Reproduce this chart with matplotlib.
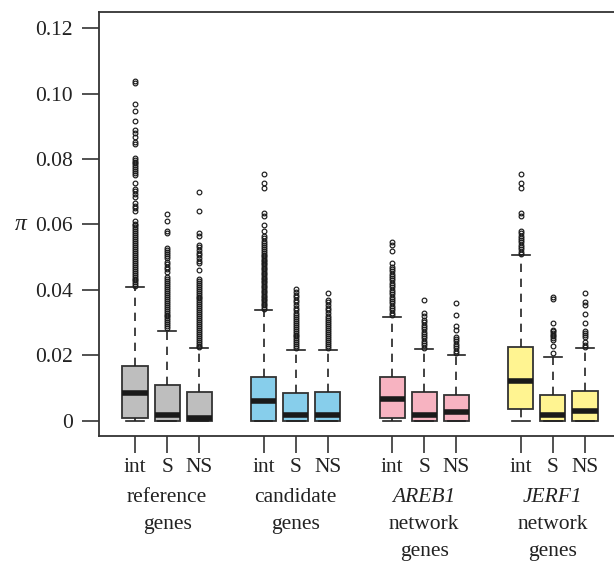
import matplotlib
matplotlib.use('Agg')
import matplotlib.pyplot as plt
from matplotlib.transforms import blended_transform_factory

plt.rcParams['font.family'] = ['Liberation Serif', 'DejaVu Serif']

# --- data ---
sub_labels = ['int', 'S', 'NS'] * 4
positions = [1, 2, 3, 5, 6, 7, 9, 10, 11, 13, 14, 15]
group_colors = ['#BEBEBE', '#87CEEB', '#F7B3C1', '#FFF491']

q1 = [0.0009, 0.0, 0.0, 0.0, 0.0, 0.0, 0.0009, 0.0, 0.0, 0.0037, 0.0, 0.0]
med = [0.0085, 0.0019, 0.0010, 0.0061, 0.0019, 0.0019,
       0.0068, 0.0019, 0.0028, 0.0123, 0.0019, 0.0030]
q3 = [0.0169, 0.0110, 0.0089, 0.0134, 0.0085, 0.0087,
      0.0135, 0.0087, 0.0080, 0.0225, 0.0080, 0.0091]
whislo = [0.0] * 12
whishi = [0.0410, 0.0276, 0.0222, 0.0339, 0.0218, 0.0218,
          0.0318, 0.0219, 0.0202, 0.0507, 0.0196, 0.0222]

ref_int_out = [0.1038, 0.1031, 0.0969, 0.0946, 0.0916, 0.0888, 0.0880, 0.0868, 0.0851, 0.0846,
               0.0802, 0.0797, 0.0792, 0.0787, 0.0781, 0.0776, 0.0770, 0.0764, 0.0758, 0.0752,
               0.0728, 0.0708, 0.0701, 0.0694, 0.0684, 0.0666, 0.0658, 0.0651, 0.0641, 0.0611,
               0.0603, 0.0597, 0.0591, 0.0585, 0.0579, 0.0573, 0.0567, 0.0561, 0.0555, 0.0549,
               0.0543, 0.0537, 0.0531, 0.0525, 0.0519, 0.0513, 0.0507, 0.0501, 0.0495, 0.0489,
               0.0483, 0.0477, 0.0471, 0.0465, 0.0459, 0.0453, 0.0447, 0.0441, 0.0435, 0.0429,
               0.0423, 0.0417, 0.0413]
ref_s_out = [0.0632, 0.0611, 0.0581, 0.0573, 0.0527, 0.0521, 0.0515, 0.0509, 0.0503, 0.0497,
             0.0486, 0.0479, 0.0471, 0.0463, 0.0456, 0.0439, 0.0433, 0.0427, 0.0421, 0.0415,
             0.0409, 0.0403, 0.0397, 0.0391, 0.0385, 0.0379, 0.0373, 0.0367, 0.0361, 0.0355,
             0.0349, 0.0343, 0.0337, 0.0331, 0.0325, 0.0319, 0.0313, 0.0307, 0.0301, 0.0295,
             0.0289, 0.0283]
ref_ns_out = [0.0698, 0.0641, 0.0573, 0.0565, 0.0537, 0.0530, 0.0522, 0.0514, 0.0506, 0.0498,
              0.0490, 0.0483, 0.0461, 0.0434, 0.0428, 0.0422, 0.0416, 0.0410, 0.0404, 0.0398,
              0.0392, 0.0386, 0.0380, 0.0374, 0.0368, 0.0362, 0.0356, 0.0350, 0.0344, 0.0338,
              0.0332, 0.0326, 0.0320, 0.0314, 0.0308, 0.0302, 0.0296, 0.0290, 0.0284, 0.0278,
              0.0272, 0.0266, 0.0260, 0.0254, 0.0248, 0.0242, 0.0236, 0.0230, 0.0226]
cand_int_out = [0.0754, 0.0726, 0.0711, 0.0634, 0.0626, 0.0598, 0.0580, 0.0565, 0.0558, 0.0551,
                0.0544, 0.0537, 0.0530, 0.0524, 0.0518, 0.0513, 0.0508, 0.0503, 0.0498, 0.0493,
                0.0488, 0.0483, 0.0478, 0.0473, 0.0468, 0.0463, 0.0458, 0.0453, 0.0448, 0.0443,
                0.0438, 0.0433, 0.0428, 0.0423, 0.0418, 0.0413, 0.0408, 0.0403, 0.0398, 0.0393,
                0.0388, 0.0383, 0.0378, 0.0373, 0.0368, 0.0363, 0.0358, 0.0353, 0.0348, 0.0343]
cand_s_out = [0.0402, 0.0394, 0.0386, 0.0378, 0.0370, 0.0362, 0.0354, 0.0346, 0.0338, 0.0331,
              0.0324, 0.0318, 0.0312, 0.0306, 0.0300, 0.0294, 0.0288, 0.0282, 0.0276, 0.0270,
              0.0264, 0.0258, 0.0252, 0.0246, 0.0240, 0.0234, 0.0228, 0.0222]
cand_ns_out = [0.0390, 0.0370, 0.0362, 0.0354, 0.0346, 0.0338, 0.0330, 0.0322, 0.0315, 0.0308,
               0.0302, 0.0296, 0.0290, 0.0284, 0.0278, 0.0272, 0.0266, 0.0260, 0.0254, 0.0248,
               0.0242, 0.0236, 0.0230, 0.0224]
areb_int_out = [0.0547, 0.0537, 0.0519, 0.0483, 0.0471, 0.0464, 0.0457, 0.0450, 0.0443, 0.0436,
                0.0429, 0.0422, 0.0415, 0.0408, 0.0401, 0.0394, 0.0387, 0.0380, 0.0373, 0.0366,
                0.0359, 0.0352, 0.0345, 0.0338, 0.0331, 0.0324]
areb_s_out = [0.0369, 0.0331, 0.0321, 0.0308, 0.0301, 0.0294, 0.0287, 0.0280, 0.0273, 0.0266,
              0.0259, 0.0252, 0.0245, 0.0238, 0.0231, 0.0224]
areb_ns_out = [0.0361, 0.0323, 0.0290, 0.0278, 0.0257, 0.0250, 0.0243, 0.0236, 0.0229, 0.0222,
               0.0215, 0.0208]
jerf_int_out = [0.0754, 0.0726, 0.0711, 0.0634, 0.0626, 0.0580, 0.0573, 0.0566, 0.0559, 0.0552,
                0.0545, 0.0538, 0.0531, 0.0524, 0.0517, 0.0511]
jerf_s_out = [0.0380, 0.0372, 0.0300, 0.0279, 0.0274, 0.0269, 0.0264, 0.0259, 0.0253, 0.0247,
              0.0228, 0.0207]
jerf_ns_out = [0.0390, 0.0364, 0.0355, 0.0326, 0.0298, 0.0276, 0.0270, 0.0263, 0.0257, 0.0240,
               0.0233, 0.0227]

outliers = [ref_int_out, ref_s_out, ref_ns_out, cand_int_out, cand_s_out, cand_ns_out,
            areb_int_out, areb_s_out, areb_ns_out, jerf_int_out, jerf_s_out, jerf_ns_out]

group_lines = [[('reference', 'normal'), ('genes', 'normal')],
               [('candidate', 'normal'), ('genes', 'normal')],
               [('AREB1', 'italic'), ('network', 'normal'), ('genes', 'normal')],
               [('JERF1', 'italic'), ('network', 'normal'), ('genes', 'normal')]]
group_centers = [2, 6, 10, 14]

# --- figure ---
fig = plt.figure(figsize=(6.14, 5.61), dpi=100)
ax = fig.add_axes([99 / 614, 125 / 561, 521 / 614, 424 / 561])

stats = []
for i in range(12):
    stats.append(dict(q1=q1[i], med=med[i], q3=q3[i], whislo=whislo[i],
                      whishi=whishi[i], fliers=outliers[i]))

edge = '#333333'
bp = ax.bxp(stats, positions=positions, widths=0.78, capwidths=0.55,
            patch_artist=True, showfliers=True,
            boxprops=dict(edgecolor=edge, linewidth=1.3),
            medianprops=dict(color='#1a1a1a', linewidth=4, solid_capstyle='butt'),
            whiskerprops=dict(color='#222222', linewidth=1.2, linestyle=(0, (5, 4))),
            capprops=dict(color='#222222', linewidth=1.2),
            flierprops=dict(marker='o', markersize=3.4, markerfacecolor='none',
                            markeredgecolor='#1a1a1a', markeredgewidth=0.85))
for i, box in enumerate(bp['boxes']):
    box.set_facecolor(group_colors[i // 3])

ax.set_xlim(-0.12, 16.09)
ax.set_ylim(-0.0046, 0.1249)

ax.spines['right'].set_visible(False)
for s in ['left', 'top', 'bottom']:
    ax.spines[s].set_linewidth(1.3)
    ax.spines[s].set_color('#333333')

ax.set_yticks([0, 0.02, 0.04, 0.06, 0.08, 0.10, 0.12])
ax.set_yticklabels(['0', '0.02', '0.04', '0.06', '0.08', '0.10', '0.12'])
ax.set_xticks(positions)
ax.set_xticklabels(sub_labels)
ax.tick_params(axis='both', length=12, width=1.2, color='#333333',
               labelsize=15.5, labelcolor='#222222')
ax.tick_params(axis='y', pad=7)
ax.tick_params(axis='x', pad=4)

trans = blended_transform_factory(ax.transData, ax.transAxes)
for c, lines in zip(group_centers, group_lines):
    for j, (txt, st) in enumerate(lines):
        ax.text(c, -0.146 - j * 0.0637, txt, transform=trans, ha='center', va='center',
                fontsize=15.5, style=st, color='#222222')

fig.text(15 / 614, 1 - 224 / 561, 'π', fontsize=17, style='italic',
         ha='left', va='center', color='#222222')

plt.savefig('out.png', dpi=100)
